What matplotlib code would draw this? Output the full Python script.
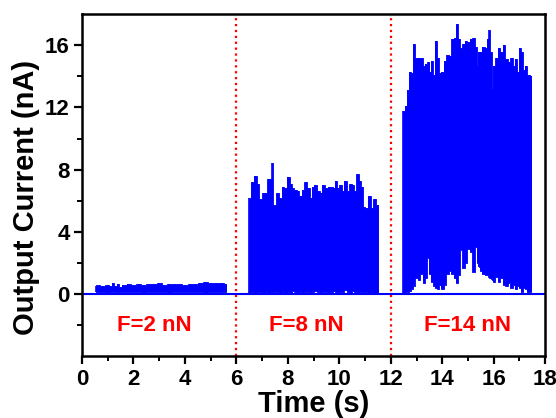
#!/usr/bin/env python3
# Corriente de salida frente al tiempo para tres fuerzas aplicadas.
import matplotlib
matplotlib.use("Agg")
import matplotlib.pyplot as plt
from matplotlib.ticker import MultipleLocator

AZUL = "#0000ff"
ROJO = "#ff0000"

# linea base de la senal (sin carga)
BASE_T = [0, 18]
BASE_I = [0, 0]

# F = 2 nN : envolvente superior / inferior (nA)
T1 = [0.55, 0.6, 0.8, 1.0, 1.1, 1.2, 1.3, 1.4, 1.5, 1.6, 1.7, 1.8, 2.0, 2.2, 2.4,
      2.6, 2.8, 3.0, 3.2, 3.4, 3.6, 3.8, 4.0, 4.2, 4.4, 4.6, 4.8, 5.0, 5.2, 5.4, 5.6]
SUP1 = [0.5, 0.55, 0.5, 0.6, 0.5, 0.7, 0.5, 0.65, 0.45, 0.6, 0.55, 0.65, 0.6, 0.65, 0.6,
        0.65, 0.62, 0.68, 0.6, 0.65, 0.62, 0.66, 0.6, 0.65, 0.62, 0.68, 0.75, 0.72, 0.7, 0.68, 0.65]
INF1 = [0.1, 0.1, 0.12, 0.08, 0.1, 0.12, 0.1, 0.08, 0.1, 0.12, 0.1, 0.1, 0.12, 0.1, 0.08,
        0.1, 0.12, 0.1, 0.1, 0.08, 0.1, 0.12, 0.1, 0.1, 0.12, 0.1, 0.08, 0.1, 0.12, 0.1, 0.1]

# F = 8 nN
T2 = [6.5, 6.6, 6.73, 6.84, 6.93, 7.06, 7.15, 7.25, 7.35, 7.4, 7.48, 7.6, 7.7, 7.82, 7.91,
      8.02, 8.12, 8.21, 8.3, 8.4, 8.5, 8.6, 8.69, 8.8, 8.89, 8.98, 9.07, 9.18, 9.28, 9.38,
      9.5, 9.59, 9.69, 9.8, 9.86, 9.95, 10.05, 10.15, 10.24, 10.33, 10.44, 10.53, 10.6,
      10.73, 10.8, 10.88, 10.96, 11.06, 11.17, 11.27, 11.37, 11.5]
SUP2 = [6.2, 7.2, 7.6, 7.1, 6.1, 6.5, 6.5, 7.4, 7.4, 8.4, 5.7, 6.5, 6.2, 6.9, 6.8,
        7.5, 7.1, 6.8, 6.7, 6.6, 6.3, 6.7, 7.2, 6.8, 6.2, 6.9, 7.0, 6.6, 6.5, 7.0,
        6.8, 6.9, 6.9, 6.8, 7.3, 6.8, 7.0, 6.6, 7.3, 6.6, 7.1, 7.0, 6.6,
        7.7, 7.3, 6.9, 5.6, 5.5, 6.3, 5.5, 6.1, 5.7]
INF2 = [0.05, 0.1, 0.05, 0.1, 0.15, 0.05, 0.1, 0.05, 0.1, 0.05, 0.1, 0.15, 0.05, 0.1, 0.05,
        0.1, 0.05, 0.2, 0.1, 0.05, 0.1, 0.05, 0.15, 0.1, 0.05, 0.1, 0.2, 0.1, 0.05, 0.1,
        0.15, 0.05, 0.1, 0.2, 0.1, 0.05, 0.15, 0.1, 0.25, 0.1, 0.05, 0.2, 0.1,
        0.05, 0.15, 0.1, 0.05, 0.1, 0.05, 0.1, 0.05, 0.05]

# F = 14 nN
T3 = [12.49, 12.58, 12.66, 12.75, 12.84, 12.92, 13.0, 13.1, 13.2, 13.28, 13.36, 13.47,
      13.54, 13.62, 13.7, 13.74, 13.83, 13.92, 14.01, 14.11, 14.22, 14.31, 14.4, 14.5,
      14.58, 14.66, 14.74, 14.83, 14.92, 15.02, 15.12, 15.23, 15.3, 15.38, 15.43, 15.47,
      15.5, 15.6, 15.7, 15.77, 15.83, 15.9, 15.94, 16.02, 16.11, 16.2, 16.3, 16.4, 16.5,
      16.6, 16.7, 16.8, 16.87, 16.96, 17.03, 17.1, 17.18, 17.25, 17.34, 17.45]
SUP3 = [11.8, 12.1, 13.1, 14.3, 14.2, 16.1, 15.2, 15.2, 15.2, 14.7, 14.8, 14.9,
        14.3, 15.0, 14.1, 16.3, 15.2, 14.2, 14.3, 15.0, 15.4, 15.3, 16.4, 16.5,
        17.4, 16.4, 15.8, 16.1, 16.3, 16.2, 16.4, 16.5, 15.9, 14.7, 15.6, 10.5,
        15.6, 15.9, 15.8, 16.4, 17.0, 15.6, 13.2, 14.7, 15.2, 15.8, 15.6, 16.0, 15.1,
        14.9, 15.2, 14.7, 15.1, 14.3, 15.8, 15.6, 14.4, 14.7, 14.1, 14.0]
INF3 = [0.05, 0.15, 0.15, 0.2, 0.35, 0.5, 1.0, 0.9, 1.3, 0.7, 1.0, 2.3,
        1.3, 0.8, 0.5, 0.4, 0.3, 0.6, 0.3, 0.6, 1.3, 1.5, 1.3, 1.0,
        0.7, 1.2, 2.8, 1.7, 2.0, 2.9, 2.7, 1.4, 3.0, 2.0, 1.8, 1.7,
        1.5, 1.3, 1.2, 1.2, 1.0, 1.0, 0.9, 0.8, 1.1, 0.8, 1.0, 0.6, 0.5,
        0.7, 0.4, 0.6, 0.3, 0.5, 0.4, 0.15, 0.4, 0.3, 0.15, 0.1]

SEPARADORES = [6, 12]
ETIQUETAS = ["F=2 nN", "F=8 nN", "F=14 nN"]
POS_ETIQ = [2.8, 8.7, 15.0]

plt.rcParams["font.family"] = ["Liberation Sans", "DejaVu Sans"]
plt.rcParams["font.weight"] = "bold"

fig = plt.figure(figsize=(5.56, 4.18), dpi=100)
ax = fig.add_axes([0.1475, 0.148, 0.833, 0.818])

ax.plot(BASE_T, BASE_I, color=AZUL, lw=1.5)
# senal densa: relleno escalonado entre envolventes, con picos finos encima
for t, sup, inf in [(T1, SUP1, INF1), (T2, SUP2, INF2), (T3, SUP3, INF3)]:
    ax.fill_between(t, inf, sup, step="mid", color=AZUL, lw=0.6, edgecolor=AZUL)
    ax.vlines(t, inf, sup, color=AZUL, lw=1.2)

for x in SEPARADORES:
    ax.axvline(x, color=ROJO, ls=":", lw=1.6)

for x, txt in zip(POS_ETIQ, ETIQUETAS):
    ax.text(x, -2.05, txt, color=ROJO, fontsize=16, fontweight="bold",
            ha="center", va="center")

ax.set_xlim(0, 18)
ax.set_ylim(-4, 18)
ax.xaxis.set_major_locator(MultipleLocator(2))
ax.xaxis.set_minor_locator(MultipleLocator(1))
ax.set_yticks([0, 4, 8, 12, 16])
ax.set_yticks([-2, 2, 6, 10, 14], minor=True)
ax.tick_params(which="major", direction="out", length=6, width=1.6, labelsize=16, pad=3)
ax.tick_params(which="minor", direction="out", length=3.5, width=1.4)
for s in ax.spines.values():
    s.set_linewidth(1.8)

ax.set_xlabel("Time (s)", fontsize=21, fontweight="bold", labelpad=0)
ax.set_ylabel("Output Current (nA)", fontsize=21, fontweight="bold")
ax.yaxis.set_label_coords(-0.09, 0.465)

fig.savefig("out.png", dpi=100)
